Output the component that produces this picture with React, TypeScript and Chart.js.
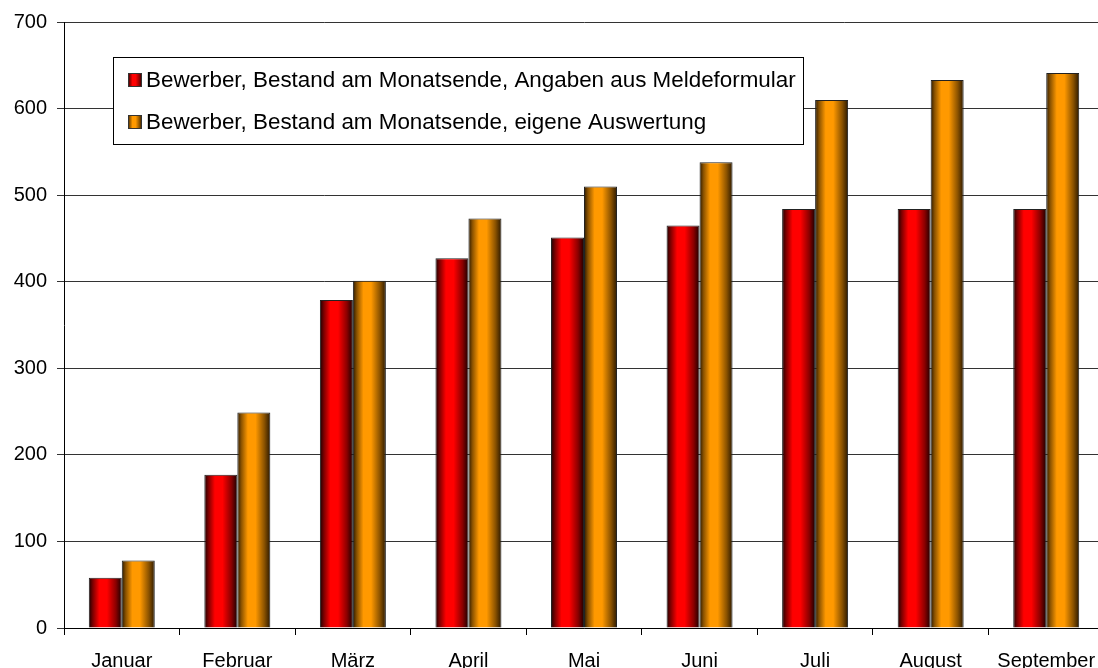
import { useEffect, useRef } from "react";
import { Chart, registerables } from "chart.js";

Chart.register(...registerables);

const categories = ["Januar", "Februar", "März", "April", "Mai", "Juni", "Juli", "August", "September"];
const seriesLabels = [
  "Bewerber, Bestand am Monatsende, Angaben aus Meldeformular",
  "Bewerber, Bestand am Monatsende, eigene Auswertung",
];
const formularValues = [58, 177, 379, 427, 451, 465, 484, 484, 484];
const eigeneValues = [78, 249, 401, 473, 510, 538, 610, 633, 641];
const yTickValues = [0, 100, 200, 300, 400, 500, 600, 700];

const FONT = "'Liberation Sans', Arial, sans-serif";
const CAT_PCT = 0.571;

const redStops: [number, string][] = [
  [0, "#1a0000"],
  [0.12, "#7a0000"],
  [0.32, "#ff0000"],
  [0.55, "#ff0000"],
  [0.82, "#8a0000"],
  [1, "#1a0000"],
];
const orangeStops: [number, string][] = [
  [0, "#2a1800"],
  [0.12, "#8a5200"],
  [0.32, "#ff9900"],
  [0.55, "#ff9900"],
  [0.82, "#8a5200"],
  [1, "#2a1800"],
];

function makeGradient(c: CanvasRenderingContext2D, left: number, width: number, stops: [number, string][]) {
  const g = c.createLinearGradient(left, 0, left + width, 0);
  stops.forEach(([o, col]) => g.addColorStop(o, col));
  return g;
}

function barFill(stops: [number, string][]) {
  return (ctx: any) => {
    const chart = ctx.chart;
    const xScale = chart.scales?.x;
    if (!xScale || ctx.dataIndex === undefined || !chart.chartArea) return stops[2][1];
    const center = xScale.getPixelForValue(ctx.dataIndex);
    const cat = (xScale.right - xScale.left) / categories.length;
    const bw = (cat * CAT_PCT) / 2;
    const left = ctx.datasetIndex === 0 ? center - bw : center;
    return makeGradient(chart.ctx, left, bw, stops);
  };
}

const boxLegend = {
  id: "boxLegend",
  afterDraw(chart: any) {
    const c: CanvasRenderingContext2D = chart.ctx;
    c.save();
    c.fillStyle = "#ffffff";
    c.fillRect(113.5, 57.5, 690, 87);
    c.strokeStyle = "#000000";
    c.lineWidth = 1;
    c.strokeRect(113.5, 57.5, 690, 87);
    const items = [
      { y: 73, stops: redStops, text: seriesLabels[0] },
      { y: 115, stops: orangeStops, text: seriesLabels[1] },
    ];
    items.forEach((it) => {
      c.fillStyle = makeGradient(c, 128, 14, it.stops);
      c.fillRect(128, it.y, 14, 14);
      c.strokeStyle = "#333";
      c.strokeRect(128.5, it.y + 0.5, 13, 13);
      c.fillStyle = "#000";
      c.font = `22.4px ${FONT}`;
      c.textBaseline = "middle";
      c.textAlign = "left";
      c.fillText(it.text, 146, it.y + 8);
    });
    c.restore();
  },
};

export default function App() {
  const ref = useRef<HTMLCanvasElement | null>(null);
  useEffect(() => {
    if (!ref.current) return;
    const chart = new Chart(ref.current, {
      type: "bar",
      data: {
        labels: categories,
        datasets: [
          {
            label: seriesLabels[0],
            data: formularValues,
            backgroundColor: barFill(redStops),
            borderColor: "#222",
            borderWidth: 1,
          },
          {
            label: seriesLabels[1],
            data: eigeneValues,
            backgroundColor: barFill(orangeStops),
            borderColor: "#222",
            borderWidth: 1,
          },
        ],
      },
      options: {
        responsive: false,
        animation: false,
        layout: { padding: { top: 21, right: 2, left: 0, bottom: 0 } },
        datasets: { bar: { categoryPercentage: CAT_PCT, barPercentage: 1 } },
        plugins: { legend: { display: false }, tooltip: { enabled: false } },
        scales: {
          x: {
            offset: true,
            grid: { display: true, drawOnChartArea: false, drawTicks: true, tickLength: 7, color: "#000", offset: true },
            border: { display: true, color: "#000" },
            ticks: {
              color: "#000",
              font: { family: FONT, size: 20 },
              padding: 14,
              maxRotation: 0,
              autoSkip: false,
            },
            afterFit: (s: any) => {
              s.height = 40;
              s.paddingLeft = 0;
              s.paddingRight = 0;
            },
          },
          y: {
            min: 0,
            max: 700,
            afterBuildTicks: (s: any) => {
              s.ticks = yTickValues.map((v) => ({ value: v }));
            },
            grid: { color: "#333", tickLength: 7, drawTicks: true },
            border: { display: true, color: "#000" },
            ticks: {
              color: "#000",
              font: { family: FONT, size: 20 },
              padding: 10,
            },
            afterFit: (s: any) => {
              s.width = 64;
            },
          },
        },
      },
      plugins: [boxLegend],
    });
    return () => chart.destroy();
  }, []);
  return (
    <div style={{ position: "fixed", left: 0, top: 0, width: 1098, height: 668, overflow: "hidden", background: "#fff" }}>
      <canvas ref={ref} width={1106} height={668} style={{ display: "block", width: 1106, height: 668 }} />
    </div>
  );
}
